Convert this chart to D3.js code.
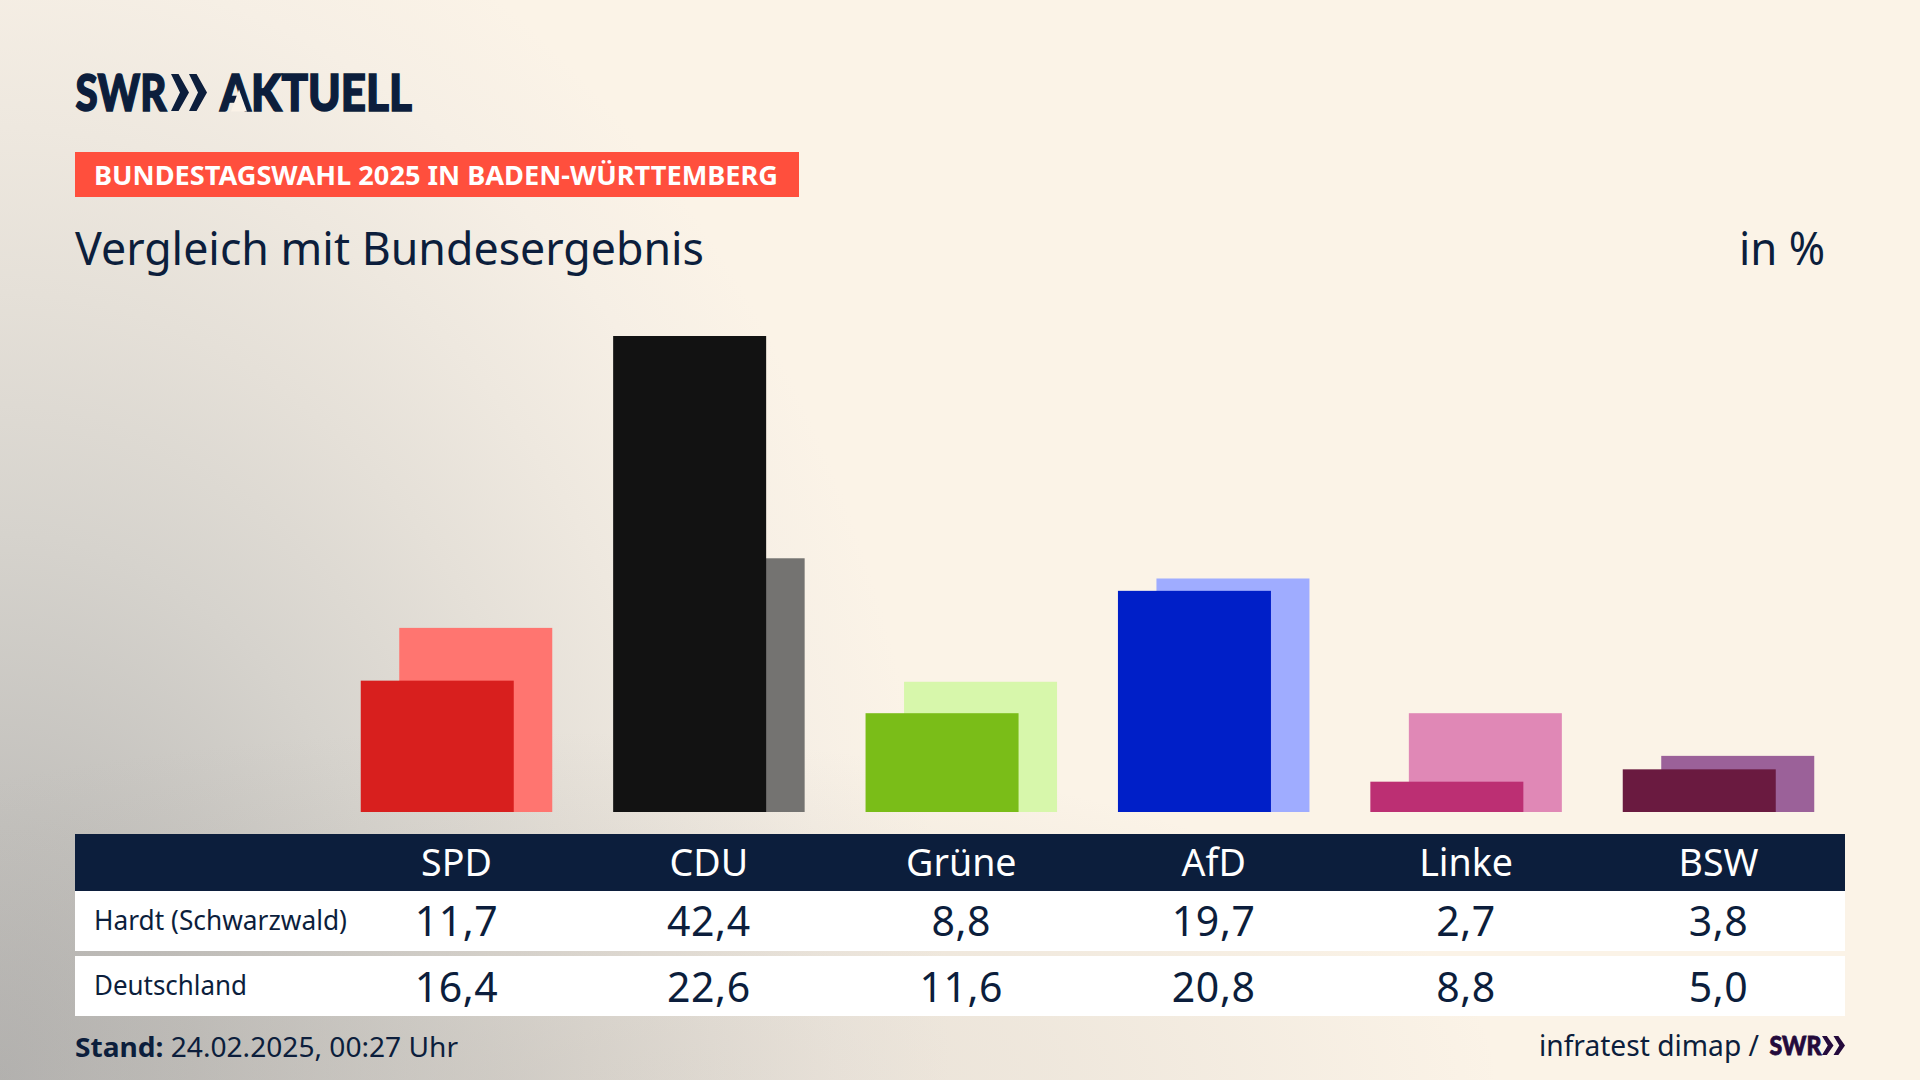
<!DOCTYPE html>
<html lang="de"><head><meta charset="utf-8">
<script src="https://cdn.jsdelivr.net/npm/d3@7"></script>
<style>html,body{margin:0;padding:0;background:#fbf3e7}svg{display:block}text{font-family:"Noto Sans",sans-serif;fill:#0c1e3c}</style>
</head><body><svg id="c" width="1920" height="1080"></svg>
<script>
const parties=["SPD","CDU","Grüne","AfD","Linke","BSW"];
const hardt=[11.7,42.4,8.8,19.7,2.7,3.8];
const deutschland=[16.4,22.6,11.6,20.8,8.8,5.0];
const frontColors=["#d81f1e","#121212","#7abd18","#001fc8","#bc2f73","#6a1a40"];
const backColors=["#ff7570","#747371","#d7f7ab","#9facff","#e088b6","#9b6199"];
const rowLabels=["Hardt (Schwarzwald)","Deutschland"];
const fmt=v=>v.toFixed(1).replace(".",",");

const navy="#0c1e3c";
const svg=d3.select("#c");
const defs=svg.append("defs");
const g=defs.append("radialGradient").attr("id","bg").attr("gradientUnits","userSpaceOnUse")
  .attr("cx",0).attr("cy",0).attr("r",1).attr("gradientTransform","translate(0,1080) scale(950,1270)");
[[0,"#b4b3b1"],[0.2,"#c2c0bc"],[0.43,"#d6d3cd"],[0.62,"#e5e0d8"],[0.75,"#eee8df"],[0.88,"#f6efe5"],[1,"#fbf3e7"]]
  .forEach(([o,c])=>g.append("stop").attr("offset",o).attr("stop-color",c));
const g2=defs.append("radialGradient").attr("id","bg2").attr("gradientUnits","userSpaceOnUse")
  .attr("cx",0).attr("cy",0).attr("r",1).attr("gradientTransform","translate(500,1080) scale(1000,350)");
[[0,0.28],[0.55,0.15],[1,0]].forEach(([o,a])=>g2.append("stop").attr("offset",o).attr("stop-color","#aaa5a0").attr("stop-opacity",a));
svg.append("rect").attr("width",1920).attr("height",1080).attr("fill","url(#bg)");
svg.append("rect").attr("width",1920).attr("height",1080).attr("fill","url(#bg2)");

function label(x,y,str,size,opt={}){
  const t=svg.append("text").attr("x",x).attr("y",y).attr("font-size",size)
    .attr("text-anchor",opt.anchor||"start").attr("font-weight",opt.weight||400).text(str);
  if(opt.fill) t.style("fill",opt.fill);
  if(opt.family) t.style("font-family",opt.family);
  if(opt.spacing) t.style("letter-spacing",opt.spacing);
  if(opt.stroke) t.attr("stroke",opt.fill||navy).attr("stroke-width",opt.stroke);
  if(opt.width) t.attr("textLength",opt.width).attr("lengthAdjust","spacingAndGlyphs");
  return t;
}
function chevrons(x,y,w,h,fill){
  const u=w/2;
  const d=(o)=>`M${o},${y}L${o+u*.42},${y}L${o+u},${y+h/2}L${o+u*.42},${y+h}L${o},${y+h}L${o+u*.5},${y+h/2}Z`;
  svg.append("path").attr("d",d(x)+d(x+u)).attr("fill",fill);
}

// Header
label(75.5,110.5,"SWR",52,{weight:900,width:91,family:"Lato",stroke:1.6});
chevrons(171,74,36,37,navy);
label(220,110.5,"AKTUELL",52,{weight:900,width:192,family:"Lato",stroke:1.6});
// open the logo's A (the wordmark draws it without a crossbar)
svg.append("path").attr("d","M239,89.5L231,111.5L247,111.5Z").attr("fill","#faf2e7");
svg.append("rect").attr("x",75).attr("y",152).attr("width",724).attr("height",45).attr("fill","#ff4f3d");
label(94,184.5,"BUNDESTAGSWAHL 2025 IN BADEN-WÜRTTEMBERG",27,{weight:700,width:684,fill:"#fff"});
label(75,264.5,"Vergleich mit Bundesergebnis",45,{width:629});
label(1825,264.5,"in %",45,{anchor:"end",width:86});

// Scales
const x=d3.scaleBand().domain(parties).range([330.3,1844.7]);
const y=d3.scaleLinear().domain([0,42.4]).range([812,336]);
const barW=153, off=38.5;
const cx=p=>x(p)+x.bandwidth()/2;

// Bars
const idx=parties.map((p,i)=>i);
svg.append("g").selectAll("rect").data(idx).join("rect")
  .attr("x",i=>cx(parties[i])-barW/2+off/2).attr("width",barW)
  .attr("y",i=>y(deutschland[i])).attr("height",i=>y(0)-y(deutschland[i]))
  .attr("fill",i=>backColors[i]);
svg.append("g").selectAll("rect").data(idx).join("rect")
  .attr("x",i=>cx(parties[i])-barW/2-off/2).attr("width",barW)
  .attr("y",i=>y(hardt[i])).attr("height",i=>y(0)-y(hardt[i]))
  .attr("fill",i=>frontColors[i]);

// Table
svg.append("rect").attr("x",75).attr("y",834).attr("width",1770).attr("height",57).attr("fill",navy);
svg.append("rect").attr("x",75).attr("y",891).attr("width",1770).attr("height",60).attr("fill","#fff");
svg.append("rect").attr("x",75).attr("y",956).attr("width",1770).attr("height",60).attr("fill","#fff");
parties.forEach((p,i)=>{
  label(cx(p),876,p,37.6,{anchor:"middle",fill:"#fff"});
  label(cx(p),935.5,fmt(hardt[i]),41,{anchor:"middle",spacing:"0.6px"});
  label(cx(p),1001.5,fmt(deutschland[i]),41,{anchor:"middle",spacing:"0.6px"});
});
label(94,930,rowLabels[0],26.5,{width:253});
label(94,995,rowLabels[1],26.5,{width:153});

// Footer
const st=svg.append("text").attr("x",75).attr("y",1057).attr("font-size",27);
st.append("tspan").attr("font-weight",700).text("Stand:");
st.append("tspan").text(" 24.02.2025, 00:27 Uhr");
st.attr("textLength",383).attr("lengthAdjust","spacingAndGlyphs");
label(1539,1056,"infratest dimap /",29,{width:220});
label(1769.5,1055,"SWR",26,{weight:900,width:52,fill:"#240a3c",family:"Lato",stroke:0.8});
chevrons(1822,1036,23,19,"#240a3c");
</script></body></html>
